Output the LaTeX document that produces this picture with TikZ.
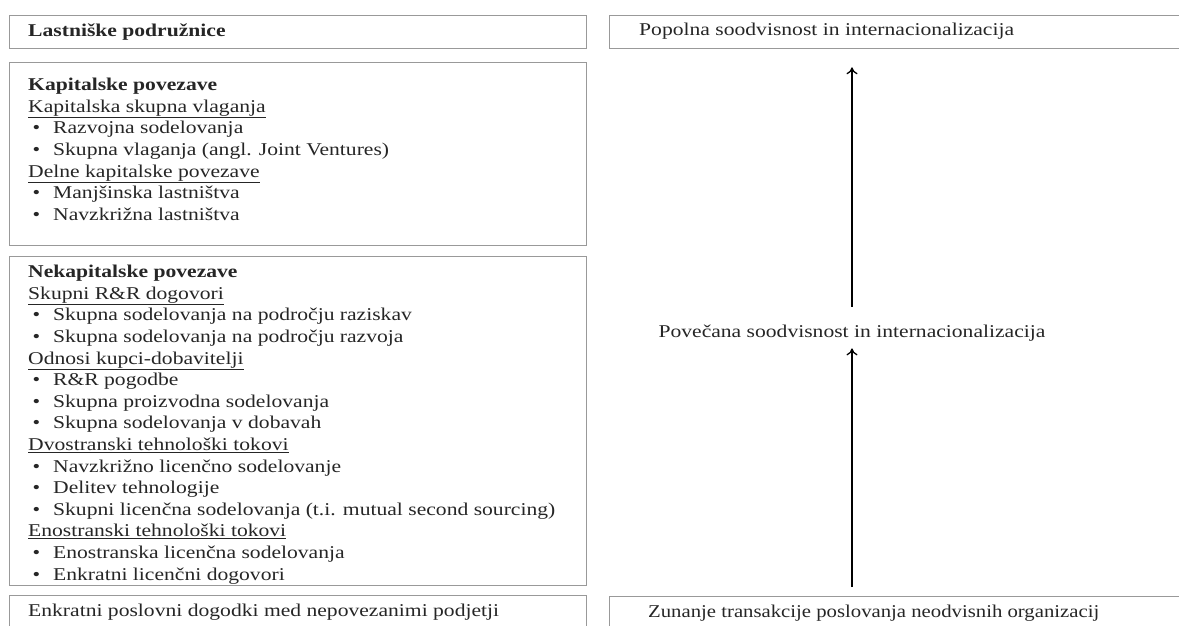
\documentclass[tikz,border=0pt]{standalone}
\usepackage{fontspec}
\setmainfont[FakeStretch=1.2]{Liberation Serif}
\usetikzlibrary{arrows.meta,calc}
\newcommand{\bl}[1]{\hspace*{4.5pt}\makebox[20.5pt][l]{•}#1}
\newcommand{\ul}[1]{\underline{#1}}
\begin{document}
\begin{tikzpicture}[x=1pt,y=-1pt,
  box/.style={draw=black!40,line width=1.3pt,fill=white,rectangle,inner sep=0pt,anchor=north west},
  txt/.style={text=black!85,font=\fontsize{18}{21.6}\selectfont,align=left,inner sep=0pt,anchor=west},
  arr/.style={draw=black,line width=1.3pt,-{To[length=7pt,width=11pt,line width=1.3pt]}}]
\useasboundingbox (0,0) rectangle (1179,626);
\clip (0,0) rectangle (1179,626);
\fill[white] (0,0) rectangle (1179,626);
% left column
\node[box,minimum width=577pt,minimum height=33pt] (b1) at (9,15) {};
\node[box,minimum width=577pt,minimum height=183pt] (b2) at (9,62) {};
\node[box,minimum width=577pt,minimum height=329pt] (b3) at (9,256) {};
\node[box,minimum width=577pt,minimum height=60pt] (b4) at (9,595) {};
\node[txt] (t1) at ($(b1.north west)+(19,17)$) {\textbf{Lastniške podružnice}};
\node[txt,anchor=north west] (t2) at ($(b2.north west)+(19,16)$) {\textbf{Kapitalske povezave}\\
\ul{Kapitalska skupna vlaganja}\\
\bl{Razvojna sodelovanja}\\
\bl{Skupna vlaganja (angl. Joint Ventures)}\\
\ul{Delne kapitalske povezave}\\
\bl{Manjšinska lastništva}\\
\bl{Navzkrižna lastništva}};
\node[txt,anchor=north west] (t3) at ($(b3.north west)+(19,9)$) {\textbf{Nekapitalske povezave}\\
\ul{Skupni R\&R dogovori}\\
\bl{Skupna sodelovanja na področju raziskav}\\
\bl{Skupna sodelovanja na področju razvoja}\\
\ul{Odnosi kupci-dobavitelji}\\
\bl{R\&R pogodbe}\\
\bl{Skupna proizvodna sodelovanja}\\
\bl{Skupna sodelovanja v dobavah}\\
\ul{Dvostranski tehnološki tokovi}\\
\bl{Navzkrižno licenčno sodelovanje}\\
\bl{Delitev tehnologije}\\
\bl{Skupni licenčna sodelovanja (t.i. mutual second sourcing)}\\
\ul{Enostranski tehnološki tokovi}\\
\bl{Enostranska licenčna sodelovanja}\\
\bl{Enkratni licenčni dogovori}};
\node[txt] (t4) at ($(b4.north west)+(19,17)$) {Enkratni poslovni dogodki med nepovezanimi podjetji};
% right column
\node[box,minimum width=600pt,minimum height=33pt] (r1) at (609,15) {};
\node[box,minimum width=600pt,minimum height=60pt] (r2) at (609,596) {};
\node[txt] (rt1) at ($(r1.north west)+(30,16)$) {Popolna soodvisnost in internacionalizacija};
\node[txt,xscale=0.96,transform shape] (rt2) at ($(r2.north west)+(39,17)$) {Zunanje transakcije poslovanja neodvisnih organizacij};
\node[txt,anchor=center] (m) at (852,333) {Povečana soodvisnost in internacionalizacija};
\draw[arr,shorten <=18pt,shorten >=18pt] (m.north) -- (m.north |- r1.south);
\draw[arr,shorten <=9pt,shorten >=7pt] (m.south |- r2.north) -- (m.south);
\end{tikzpicture}
\end{document}
